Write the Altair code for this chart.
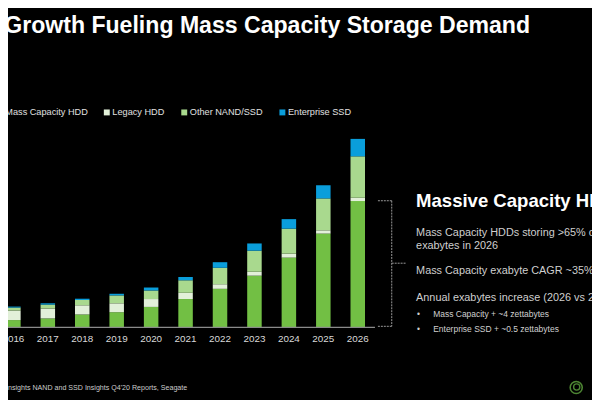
import altair as alt
import pandas as pd

# ---- data (exabytes) ----
years = ["2016", "2017", "2018", "2019", "2020", "2021", "2022", "2023", "2024", "2025", "2026"]
mass_capacity_hdd = [264, 324, 468, 552, 744, 1032, 1404, 1884, 2544, 3420, 4608]
legacy_hdd = [348, 360, 336, 324, 288, 228, 168, 144, 144, 120, 120]
other_nand_ssd = [108, 144, 192, 288, 312, 456, 600, 768, 912, 1164, 1512]
enterprise_ssd = [36, 48, 48, 60, 108, 120, 204, 264, 348, 480, 636]

series_names = ["Mass Capacity HDD", "Legacy HDD", "Other NAND/SSD", "Enterprise SSD"]
series_colors = ["#72BF44", "#E2F0D9", "#A9D98E", "#0A9EDB"]

rows = []
for i, y in enumerate(years):
    for k, (name, vals) in enumerate(zip(series_names,
                                         [mass_capacity_hdd, legacy_hdd, other_nand_ssd, enterprise_ssd])):
        rows.append({"year": y, "series": name, "value": vals[i], "ord": k})
df = pd.DataFrame(rows)

FONT = "Liberation Sans"

# the page has an 8px margin: chart coordinates = reference coordinates - 8
x_scale = alt.Scale(domain=years, range=[-12, 372], paddingInner=0.58, paddingOuter=0.29)

bars = alt.Chart(df).mark_bar(size=14.7).encode(
    x=alt.X("year:N", scale=x_scale, axis=None),
    y=alt.Y("value:Q", stack="zero", scale=alt.Scale(domain=[0, 11556], range=[321, 0]), axis=None),
    color=alt.Color("series:N", sort=series_names,
                    scale=alt.Scale(domain=series_names, range=series_colors),
                    legend=alt.Legend(orient="none", legendX=-13, legendY=98.5, direction="horizontal",
                                      columns=4, title=None, symbolType="square", symbolSize=36,
                                      symbolStrokeWidth=0, labelColor="#e0e0e0", labelFont=FONT,
                                      labelFontSize=9.3, labelOffset=1, columnPadding=14.5)),
    order=alt.Order("ord:Q", sort="ascending"),
)

year_df = pd.DataFrame({"year": years})
year_labels = alt.Chart(year_df).mark_text(
    font=FONT, fontSize=10, color="#d9d9d9", baseline="middle"
).encode(x=alt.X("year:N", scale=x_scale, axis=None), y=alt.value(333), text="year:N")

one = alt.Data(values=[{"a": 1}])


def rule(x, x2, y, y2, color, dash=None, width=1.0):
    kw = dict(color=color, strokeWidth=width)
    if dash:
        kw["strokeDash"] = dash
    return alt.Chart(one).mark_rule(**kw).encode(
        x=alt.value(x), x2=alt.value(x2), y=alt.value(y), y2=alt.value(y2))


def text(s, x, y, size, color, weight="normal"):
    return alt.Chart(one).mark_text(
        font=FONT, fontSize=size, color=color, fontWeight=weight, align="left", baseline="alphabetic"
    ).encode(x=alt.value(x), y=alt.value(y), text=alt.value(s))


axis_line = rule(-8, 372, 321, 321, "#8a8a8a", width=1.2)

br = "#9a9a9a"
bracket = [
    rule(389, 389, 192.7, 320, br, [2, 1]),
    rule(375, 389, 192.7, 192.7, br, [2, 1]),
    rule(375, 389, 320, 320, br, [2, 1]),
    rule(389, 403, 256, 256, br, [2, 1]),
]

texts = [
    text("Growth Fueling Mass Capacity Storage Demand", -3.8, 22.5, 23.4, "#ffffff", "bold"),
    text("Massive Capacity HDDs", 413.7, 199, 18.8, "#ffffff", "bold"),
    text("Mass Capacity HDDs storing >65% of", 413.7, 228.7, 11, "#cfcfcf"),
    text("exabytes in 2026", 413.7, 242, 11, "#cfcfcf"),
    text("Mass Capacity exabyte CAGR ~35%", 413.7, 267, 11, "#cfcfcf"),
    text("Annual exabytes increase (2026 vs 2020)", 413.7, 294.7, 11, "#cfcfcf"),
    text("•", 414.5, 310.3, 8.6, "#cfcfcf"),
    text("Mass Capacity + ~4 zettabytes", 431, 310.3, 8.6, "#cfcfcf"),
    text("•", 414.5, 326, 8.6, "#cfcfcf"),
    text("Enterprise SSD + ~0.5 zettabytes", 431, 326, 8.6, "#cfcfcf"),
    text("d Insights NAND and SSD Insights Q4'20 Reports, Seagate", -8, 384.3, 7.2, "#cccccc"),
]

logo = [
    alt.Chart(one).mark_point(shape="circle", filled=False, color="#6EBE49", strokeWidth=1.6, size=150).encode(
        x=alt.value(576), y=alt.value(382)),
    alt.Chart(one).mark_point(shape="circle", filled=False, color="#6EBE49", strokeWidth=1.4, size=40).encode(
        x=alt.value(576.5), y=alt.value(381.5)),
]

chart = alt.layer(bars, year_labels, axis_line, *bracket, *texts, *logo).properties(
    width=592, height=392, padding=0, autosize=alt.AutoSizeParams(type="none"),
    background="#000000",
).configure_view(stroke=None)

chart.save("out.html", embed_options={"renderer": "svg", "actions": False})
